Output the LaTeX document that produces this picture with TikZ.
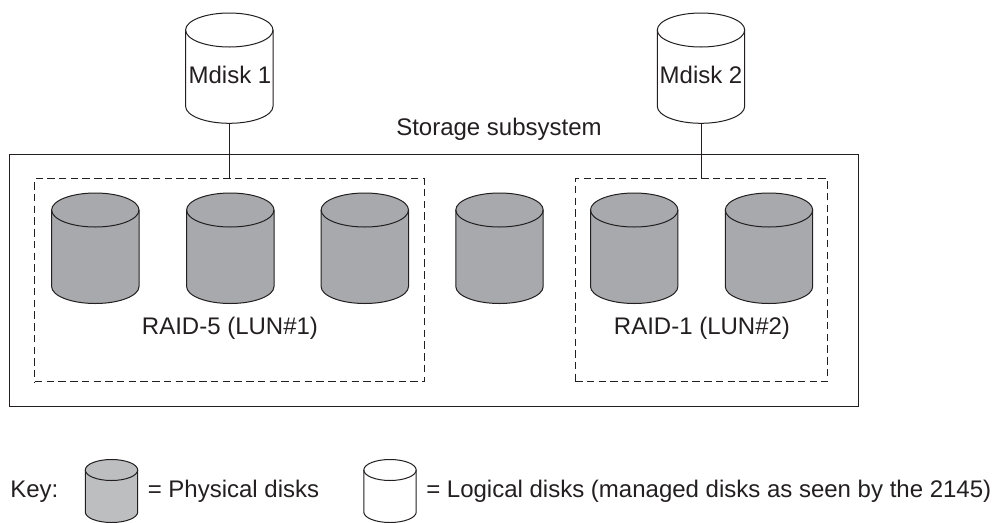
\documentclass[tikz,border=0pt]{standalone}
\usepackage{fontspec}
\setmainfont{Liberation Sans}
\definecolor{inkline}{HTML}{231F20}
\definecolor{diskgray}{HTML}{A7A9AC}
\definecolor{keygray}{HTML}{BCBEC0}
\tikzset{
    thinline/.style={draw=inkline, line width=0.75pt},
    slot/.style={inner sep=0pt, outer sep=0pt},
    caption/.style={font=\fontsize{18}{20}\selectfont, text=inkline, inner sep=0pt},
    grouping/.style={thinline, slot, dash pattern=on 5.6pt off 3.2pt}
}
% name, centre x, top y, half width, rim depth, bottom y, fill
\newcommand{\diskat}[7]{
    \node[slot] (#1) at (#2,{(#3+#6)/2}) [minimum width={2*#4*0.75pt}, minimum height={(#6-#3)*0.75pt}] {};
    \draw[thinline, fill=#7] ({#2-#4},{#3+#5}) -- ({#2-#4},{#6-#5})
        arc[start angle=180, end angle=0, x radius=#4, y radius=#5]
        -- ({#2+#4},{#3+#5}) arc[start angle=0, end angle=-180, x radius=#4, y radius=#5] -- cycle;
    \draw[thinline] ({#2-#4},{#3+#5}) arc[start angle=180, end angle=0, x radius=#4, y radius=#5];
}
\begin{document}
\begin{tikzpicture}[x=0.75pt, y=-0.75pt]
    \useasboundingbox (0,0) rectangle (992,522);

    % Storage subsystem
    \node[thinline, slot, minimum width=636.5pt, minimum height=189pt] (subsystem) at (434,280) {};
    \node[caption] (subsystemlabel) at (499,129) {Storage subsystem};

    % RAID groups
    \node[grouping, minimum width=292pt, minimum height=152.5pt] (raid5) at (229.5,280.3) {};
    \node[grouping, minimum width=189.4pt, minimum height=152.5pt] (raid1) at (701.3,280.3) {};
    \node[caption] (raid5label) at (230,328) {RAID-5 (LUN\#1)};
    \node[caption] (raid1label) at (702,328) {RAID-1 (LUN\#2)};

    % Physical disks
    \diskat{disk1}{95.3}{193}{43.7}{17}{303.5}{diskgray}
    \diskat{disk2}{230.3}{193}{43.7}{17}{303.5}{diskgray}
    \diskat{disk3}{364.8}{193}{43.7}{17}{303.5}{diskgray}
    \diskat{disk4}{499.5}{193}{43.7}{17}{303.5}{diskgray}
    \diskat{disk5}{634.2}{193}{43.7}{17}{303.5}{diskgray}
    \diskat{disk6}{769}{193}{43.7}{17}{303.5}{diskgray}

    % Logical disks
    \diskat{mdisk1}{229.3}{13}{43.7}{17}{123.3}{white}
    \diskat{mdisk2}{701}{13}{43.7}{17}{123.3}{white}
    \node[caption] (mdisk1label) at (230,75) {Mdisk 1};
    \node[caption] (mdisk2label) at (701,75) {Mdisk 2};
    \draw[thinline] (mdisk1.south) -- (mdisk1.south |- raid5.north);
    \draw[thinline] (mdisk2.south) -- (mdisk2.south |- raid1.north);

    % Key
    \node[caption, anchor=west] (keylabel) at (10,491.5) {Key:};
    \diskat{keyphysical}{111.5}{459.5}{26.2}{10.5}{522.5}{keygray}
    \node[caption, anchor=west] (physicallabel) at (147.5,491.5) {= Physical disks};
    \diskat{keylogical}{390}{459.5}{26.2}{10.5}{522.5}{white}
    \node[caption, anchor=west] (logicallabel) at (426,491.5) {= Logical disks (managed disks as seen by the 2145)};
\end{tikzpicture}
\end{document}
